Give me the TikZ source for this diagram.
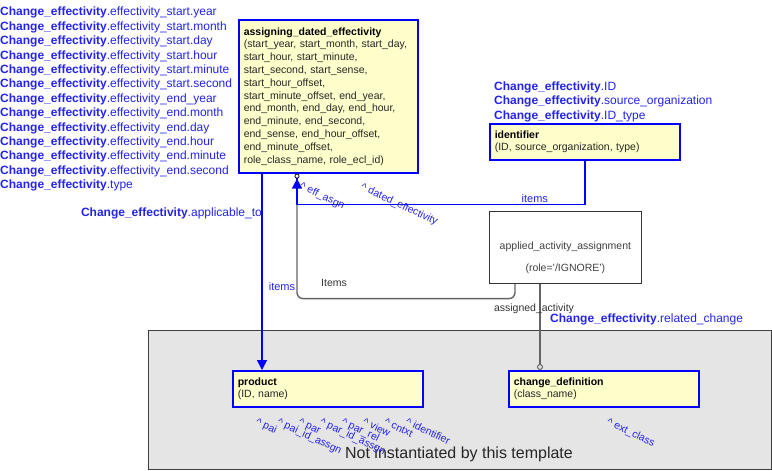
\documentclass[tikz,border=0pt]{standalone}
\usepackage{fontspec}
\setmainfont{Liberation Sans}
\usepackage{tikz}
\usetikzlibrary{positioning,calc,arrows.meta}
\definecolor{linkblue}{RGB}{0,0,255}
\definecolor{labelblue}{RGB}{35,35,235}
\definecolor{boxyellow}{RGB}{255,255,204}
\definecolor{regiongray}{RGB}{229,229,229}
\definecolor{darkline}{RGB}{100,100,100}
\newcommand{\chef}[1]{\textbf{Change\_effectivity}.#1}
\newcommand{\entname}[1]{\textbf{\color{black}#1}}
\tikzset{
	template diagram/.style={
		x=1pt,y=-1pt,
		font=\fontsize{10.5}{12.8}\selectfont,
		blue link/.style={
			draw=linkblue,
			line width=1.6pt
		},
		gray link/.style={
			draw=darkline,
			line width=1.4pt
		}
	},
	entity/.style={
		rectangle,
		draw=linkblue,
		line width=1.6pt,
		fill=boxyellow,
		anchor=north west,
		align=left,
		inner xsep=5pt,
		inner ysep=2pt,
		text=black!85
	},
	plain box/.style={
		rectangle,
		draw=black!80,
		line width=0.8pt,
		fill=white,
		anchor=north west,
		align=center,
		text=black!75,
		font=\fontsize{10.5}{22}\selectfont
	},
	region/.style={
		rectangle,
		draw=black!75,
		line width=1pt,
		fill=regiongray,
		anchor=north west,
		inner sep=0pt
	},
	attr list/.style={
		anchor=north west,
		align=left,
		inner sep=0pt,
		text=labelblue,
		font=\fontsize{12}{14.4}\selectfont
	},
	attr label/.style={
		inner sep=0pt,
		text=labelblue,
		font=\fontsize{12}{14.4}\selectfont
	},
	link label/.style={
		anchor=base,
		inner sep=0pt,
		text=labelblue,
		font=\fontsize{11}{13}\selectfont
	},
	plain label/.style={
		anchor=base,
		inner sep=0pt,
		text=black!80
	},
	role label/.style={
		anchor=base west,
		inner sep=0pt,
		rotate=-25,
		text=labelblue
	}
}

\begin{document}
\begin{tikzpicture}[template diagram]
	\useasboundingbox (0,0) rectangle (772,471);
	% part that is not instantiated
	\node[region,minimum width=623,minimum height=139] (notinst) at (148,330) {};
	\node[font=\fontsize{16}{19}\selectfont,text=black!85] (notinsttxt) at (459,454) {Not instantiated by this template};

	% entities
	\node[entity,text width=169,minimum width=179,minimum height=153] (ade) at (238,19) {\entname{assigning\_dated\_effectivity}\\
		(start\_year, start\_month, start\_day,\\
		start\_hour, start\_minute,\\
		start\_second, start\_sense,\\
		start\_hour\_offset,\\
		start\_minute\_offset, end\_year,\\
		end\_month, end\_day, end\_hour,\\
		end\_minute, end\_second,\\
		end\_sense, end\_hour\_offset,\\
		end\_minute\_offset,\\
		role\_class\_name, role\_ecl\_id)};
	\node[entity,text width=180,minimum width=190,minimum height=36] (id) at (489,123) {\entname{identifier}\\(ID, source\_organization, type)};
	\node[entity,text width=180,minimum width=190,minimum height=36] (prod) at (232,370) {\entname{product}\\(ID, name)};
	\node[entity,text width=180,minimum width=190,minimum height=36] (cd) at (508,370) {\entname{change\_definition}\\(class\_name)};
	\node[plain box,minimum width=152,minimum height=72] (aaa) at (489,211) {\mbox{}\\[6pt]applied\_activity\_assignment\\(role='/IGNORE')};

	% attribute lists
	\node[attr list] (adeattrs) at (0,7) {\chef{effectivity\_start.year}\\
		\chef{effectivity\_start.month}\\
		\chef{effectivity\_start.day}\\
		\chef{effectivity\_start.hour}\\
		\chef{effectivity\_start.minute}\\
		\chef{effectivity\_start.second}\\
		\chef{effectivity\_end\_year}\\
		\chef{effectivity\_end.month}\\
		\chef{effectivity\_end.day}\\
		\chef{effectivity\_end.hour}\\
		\chef{effectivity\_end.minute}\\
		\chef{effectivity\_end.second}\\
		\chef{type}};
	\node[attr list] (idattrs) at (494,81.5) {\chef{ID}\\
		\chef{source\_organization}\\
		\chef{ID\_type}};

	% connectors
	\coordinate (adeapp) at ($(ade.south west)+(24,0)$);
	\coordinate (adeeff) at ($(ade.south west)+(59,0)$);
	\coordinate (idbend) at ($(id.south)+(0,44)$);
	\coordinate (aaleft) at ($(aaa.south west)+(26,0)$);
	\coordinate (aaright) at ($(aaa.south west)+(51,0)$);
	\draw[gray link,rounded corners=6pt] (aaleft) |- ($(adeeff |- idbend)+(0,94)$) -- (adeeff |- idbend);
	\draw[blue link,-{Triangle[width=10pt,length=10pt]}] (adeapp) -- (adeapp |- prod.north);
	\draw[blue link,-{Triangle[width=10pt,length=10pt] Circle[open,black,line width=0.8pt,length=5pt,width=5pt]}] (id.south) -- (idbend) -| (adeeff);
	\draw[gray link,-{Circle[open,line width=1pt,length=6pt,width=6pt]}] (aaright) -- (aaright |- cd.north);

	% connector labels
	\node[link label] (itemsapp) at ($(adeapp)+(20,117)$) {items};
	\node[attr label,anchor=base east] (appto) at ($(adeapp)+(0,43)$) {\chef{applicable\_to}};
	\node[link label] (itemsid) at ($(idbend)+(-50,-2)$) {items};
	\node[plain label] (itemsaa) at ($(adeeff |- idbend)+(37,82)$) {Items};
	\node[plain label] (asgact) at ($(aaright)+(-6,28)$) {assigned\_activity};
	\node[attr label,anchor=base west] (relchg) at ($(aaright)+(10,39)$) {\chef{related\_change}};
	\node[role label] (effasgn) at ($(adeeff)+(2,15)$) {\textasciicircum\ eff\_asgn};
	\node[role label] (datedeff) at ($(adeeff)+(63,16)$) {\textasciicircum\ dated\_effectivity};
	\foreach \rl [count=\i from 0] in {pai,pai\_id\_assgn,par,par\_id\_assgn,par\_rel,view,cntxt,identifier}
		\node[role label] (prodrole\i) at ($(prod.south west)+({23+21.4*\i},17)$) {\textasciicircum\ \rl};
	\node[role label] (extclass) at ($(cd.south west)+(98,17)$) {\textasciicircum\ ext\_class};
\end{tikzpicture}
\end{document}
